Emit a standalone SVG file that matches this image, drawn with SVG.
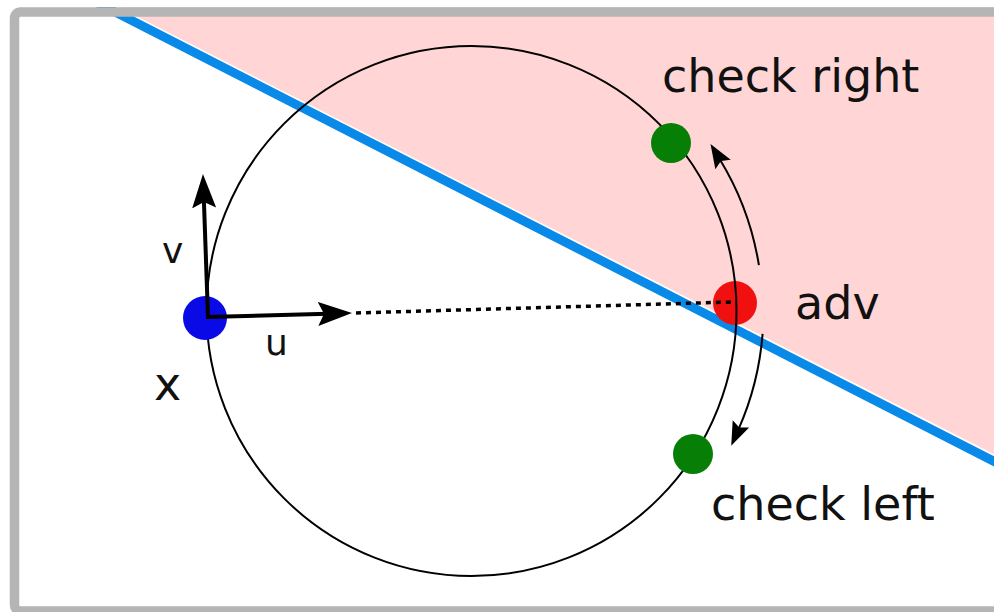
<svg xmlns="http://www.w3.org/2000/svg" width="994" height="612" viewBox="0 0 994 612">
<style>
  .lbl { font-family: "DejaVu Sans", "Liberation Sans", sans-serif; fill: #111; }
  .big { font-size: 46px; }
  .vec { font-size: 36px; }
  .thick { stroke: #000; stroke-width: 4; fill: none; }
  .thin { stroke: #000; stroke-width: 2; fill: none; }
</style>
<defs>
  <marker id="bighead" markerUnits="userSpaceOnUse" viewBox="0 -13 36 26" markerWidth="36" markerHeight="26" refX="10" refY="0" orient="auto">
    <path d="M0,-12 L34,0 L0,12 L6,0 Z" fill="#000"/>
  </marker>
  <marker id="smallhead" markerUnits="userSpaceOnUse" viewBox="0 -10 26 20" markerWidth="26" markerHeight="20" refX="6" refY="0" orient="auto">
    <path d="M0,-9 L24,0 L0,9 L4,0 Z" fill="#000"/>
  </marker>
  <clipPath id="frame">
    <rect x="10" y="7" width="984" height="605"/>
  </clipPath>
</defs>
<rect x="0" y="0" width="994" height="612" fill="#fff"/>
<g id="halfplane" clip-path="url(#frame)">
  <polygon points="104.9,0 994,0 994,454.3" fill="#ffd5d5"/>
  <line x1="91.7" y1="0" x2="1000" y2="464.4" stroke="#0a8ae8" stroke-width="9"/>
</g>
<g id="adv">
  <circle cx="735" cy="303" r="22" fill="#f01010"/>
</g>
<g id="ball">
  <circle cx="471.5" cy="311" r="265" class="thin"/>
</g>
<g id="check-right">
  <circle cx="671" cy="143" r="20" fill="#077f07"/>
</g>
<g id="check-left">
  <circle cx="693" cy="454" r="20" fill="#077f07"/>
</g>
<g id="x">
  <circle cx="205" cy="318" r="22" fill="#0a0ae6"/>
</g>
<g id="connectors">
  <line x1="208" y1="317" x2="203.8" y2="198" class="thick" marker-end="url(#bighead)"/>
  <line x1="206" y1="317" x2="328" y2="313.7" class="thick" marker-end="url(#bighead)"/>
  <line x1="356" y1="313" x2="732" y2="302" stroke="#000" stroke-width="3.5" stroke-dasharray="5 5"/>
  <path d="M758.9,265.2 A291,291 0 0 0 719.9,159.4" class="thin" marker-end="url(#smallhead)"/>
  <path d="M762.6,333.9 A292,292 0 0 1 738.5,429.3" class="thin" marker-end="url(#smallhead)"/>
</g>
<g id="labels">
  <text class="lbl big" x="662" y="92">check right</text>
  <text class="lbl big" x="711" y="520">check left</text>
  <text class="lbl big" x="795" y="319">adv</text>
  <text class="lbl vec" x="162" y="263">v</text>
  <text class="lbl vec" x="265" y="355">u</text>
  <text class="lbl big" x="154" y="400">x</text>
</g>
<rect x="14.5" y="12" width="1000" height="599" rx="6" fill="none" stroke="#b5b5b5" stroke-width="9.5"/>
</svg>
